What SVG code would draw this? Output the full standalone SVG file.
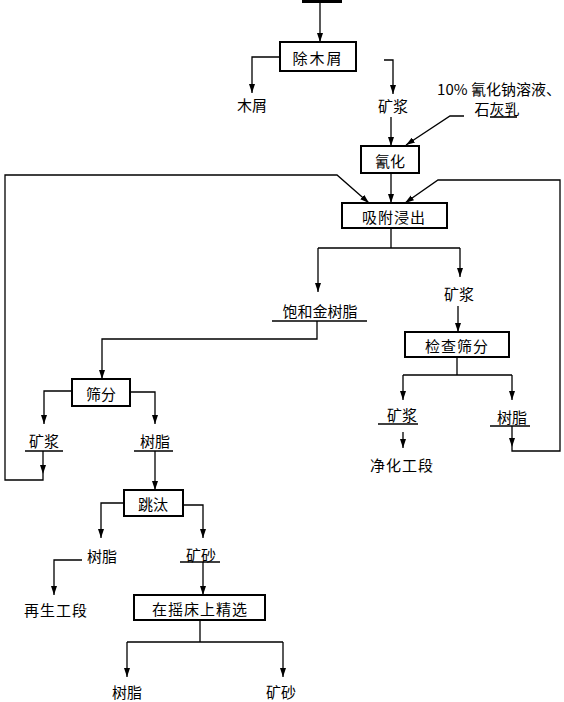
<svg xmlns="http://www.w3.org/2000/svg" width="564" height="702" viewBox="0 0 564 702">
<style>
.box{fill:#fff;stroke:#000;stroke-width:2}
.ln{fill:none;stroke:#000;stroke-width:1.3}
.ul{fill:none;stroke:#000;stroke-width:1.6}
.ar{marker-end:url(#ah)}
text{font-family:"Noto Sans CJK SC","Noto Sans",sans-serif;font-size:15px;fill:#000;text-anchor:middle;dominant-baseline:central}
</style>
<defs>
<marker id="ah" markerUnits="userSpaceOnUse" markerWidth="9" markerHeight="6" refX="9" refY="3" orient="auto">
<path d="M0,0 L9,3 L0,6 z" fill="#000"/>
</marker>
</defs>
<rect width="564" height="702" fill="#fff"/>
<g id="connectors">
<line x1="302" y1="1.5" x2="342" y2="1.5" stroke="#000" stroke-width="3"/>
<path class="ln ar" d="M320,0 V42"/>
<path class="ln ar" d="M280,57 H252 V93"/>
<path class="ln ar" d="M384,60 H393 V94"/>
<path class="ln ar" d="M391,117 V146"/>
<path class="ln ar" d="M464,116 H450 L406,145"/>
<path class="ln ar" d="M391,173 V203"/>
<path class="ln ar" d="M43,451 V474"/>
<path class="ln ar" d="M43,474 V480 H5 V175 H337 L369,203"/>
<path class="ln ar" d="M512,426 V447"/>
<path class="ln ar" d="M512,447 V451 H560 V180 H438 L405,203"/>
<path class="ln" d="M391,228 V248 M318,248 H460"/>
<path class="ln ar" d="M318,248 V292"/>
<path class="ln ar" d="M460,248 V277"/>
<path class="ul" d="M272,321 H367"/>
<path class="ln ar" d="M317,321 V339 H102 V379"/>
<path class="ln ar" d="M458,306 V332"/>
<path class="ln" d="M457,357 V375 M403,375 H512"/>
<path class="ln ar" d="M403,375 V400"/>
<path class="ln ar" d="M512,375 V400"/>
<path class="ul" d="M378,424 H418"/>
<path class="ln ar" d="M403,432 V448"/>
<path class="ul" d="M490,426 H530"/>
<path class="ln ar" d="M72,391 H44 V424"/>
<path class="ln ar" d="M130,392 H155 V424"/>
<path class="ul" d="M25,451 H63 M134,451 H173"/>
<path class="ln ar" d="M155,451 V490"/>
<path class="ln ar" d="M124,503 H101 V538"/>
<path class="ln ar" d="M183,505 H203 V538"/>
<path class="ln ar" d="M82,560 H54 V595"/>
<path class="ul" d="M180,562 H220"/>
<path class="ln ar" d="M203,562 V595"/>
<path class="ln" d="M200,620 V642 M127,642 H283"/>
<path class="ln ar" d="M127,642 V677"/>
<path class="ln ar" d="M283,642 V677"/>
<path class="ul" d="M490,117 H517"/>
</g>
<g id="n-chumuxie"><rect class="box" x="280" y="42" width="76" height="29"/><text x="318" y="57" letter-spacing="2">除木屑</text></g>
<g id="n-muxie"><text x="252" y="104">木屑</text></g>
<g id="n-kuangjiang1"><text x="393" y="105">矿浆</text></g>
<g id="n-reagent"><text x="499" y="88">10% 氰化钠溶液、</text><text x="497" y="108">石灰乳</text></g>
<g id="n-qinghua"><rect class="box" x="361" y="146" width="58" height="27"/><text x="390" y="160">氰化</text></g>
<g id="n-xifu"><rect class="box" x="342" y="203" width="105" height="25"/><text x="394" y="216" letter-spacing="1">吸附浸出</text></g>
<g id="n-baohe"><text x="320" y="310" font-size="16">饱和金树脂</text></g>
<g id="n-kuangjiang2"><text x="459" y="293">矿浆</text></g>
<g id="n-jiancha"><rect class="box" x="405" y="332" width="104" height="25"/><text x="457" y="345" letter-spacing="1">检查筛分</text></g>
<g id="n-kuangjiang3"><text x="402" y="414">矿浆</text></g>
<g id="n-shuzhi1"><text x="512" y="416">树脂</text></g>
<g id="n-jinghua"><text x="402" y="464" letter-spacing="1">净化工段</text></g>
<g id="n-shaifen"><rect class="box" x="72" y="379" width="58" height="27"/><text x="101" y="393">筛分</text></g>
<g id="n-kuangjiang4"><text x="44" y="440">矿浆</text></g>
<g id="n-shuzhi2"><text x="155" y="440">树脂</text></g>
<g id="n-tiaotai"><rect class="box" x="124" y="490" width="59" height="26"/><text x="153" y="503">跳汰</text></g>
<g id="n-shuzhi3"><text x="102" y="555">树脂</text></g>
<g id="n-kuangsha1"><text x="201" y="554">矿砂</text></g>
<g id="n-zaisheng"><text x="56" y="609" letter-spacing="1">再生工段</text></g>
<g id="n-yaochuang"><rect class="box" x="134" y="595" width="131" height="25"/><text x="200" y="608" letter-spacing="1">在摇床上精选</text></g>
<g id="n-shuzhi4"><text x="127" y="691">树脂</text></g>
<g id="n-kuangsha2"><text x="281" y="691">矿砂</text></g>
</svg>
